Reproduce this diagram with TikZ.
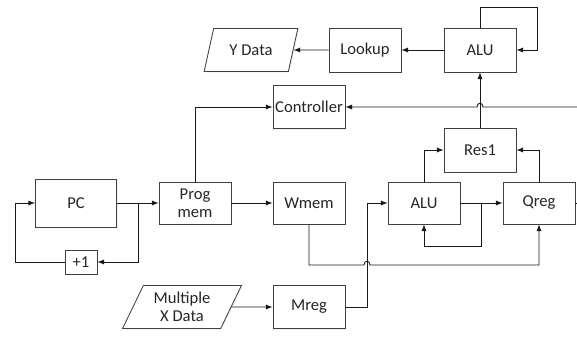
\documentclass[tikz,border=0pt]{standalone}
\usepackage{fontspec}
\setmainfont{Carlito}
\usetikzlibrary{shapes.geometric,shadows,calc}

\begin{document}
\begin{tikzpicture}[x=0.025cm,y=-0.025cm,>=latex,
        every node/.style={font=\fontsize{11.8}{13}\selectfont,text=black!85},
        blk/.style={draw=black!75,fill=white,line width=0.6pt,minimum width=1.8cm,minimum height=1.1cm,
          inner sep=0pt,align=center,drop shadow={shadow xshift=0.8pt,shadow yshift=-0.8pt,fill=black!12}},
        io/.style={blk,trapezium,trapezium left angle=63,trapezium right angle=117,trapezium stretches=true},
        wire/.style={draw=black!90,line width=0.65pt}]
        \useasboundingbox (0,0) rectangle (577,336);
        % top row
        \node[io,minimum width=2.35cm,minimum height=1.075cm] (ydata) at (251,50) {Y Data};
        \node[blk] (lookup) at (365,50) {Lookup};
        \node[blk] (alutop) at (480,50) {ALU};
        \node[blk,minimum height=1.075cm] (ctrl) at (309,107) {Controller};
        \node[blk] (res) at (480,150) {Res1};
        % middle row
        \node[blk,minimum width=2.025cm,minimum height=1.2cm] (pc) at (76,203) {PC};
        \node[blk,minimum height=1.05cm] (prog) at (195,203) {Prog\\mem};
        \node[blk,minimum height=1.05cm] (wmem) at (309,203) {Wmem};
        \node[blk,minimum height=1.05cm] (alu) at (424,203) {ALU};
        \node[blk,minimum height=1.05cm] (qreg) at (539,203) {Qreg};
        \node[blk,minimum width=0.8cm,minimum height=0.6cm] (plus) at (81,262) {+1};
        % bottom row
        \node[io,minimum width=2.975cm,minimum height=1.075cm] (xdata) at (182,307) {Multiple\\X Data};
        \node[blk,minimum height=1.075cm] (mreg) at (309,307) {Mreg};

        \coordinate (loopA) at (537,7);
        \coordinate (ctlin) at (577,107);
        \coordinate (hopc) at (res.north |- ctrl.east);
        \coordinate (pcsplit) at (138,203);
        \coordinate (pcback) at (15,262);
        \coordinate (alusplit) at (481,203);
        \coordinate (alufb) at (481,246);
        \coordinate (qout) at (577,203);
        \coordinate (wbend) at (309,265);
        \coordinate (mhop) at (367,265);
        \coordinate (mbend) at (367,307);

        \draw[wire,->] (lookup.west) -- (ydata.east);
        \draw[wire,->] (alutop.west) -- (lookup.east);
        \draw[wire,->] (alutop.north) |- (loopA) |- (alutop.east);
        \draw[wire,->] (ctlin) -- ($(hopc)+(3,0)$) .. controls +(0,-5) and +(0,-5) .. ($(hopc)+(-3,0)$) -- (ctrl.east);
        \draw[wire,->] (prog.north) |- (ctrl.west);
        \draw[wire,->] (res.north) -- (alutop.south);
        \draw[wire,->] (alu.north) |- (res.west);
        \draw[wire,->] (qreg.north) |- (res.east);
        \draw[wire,->] (pc.east) -- (prog.west);
        \draw[wire,->] (pcsplit) |- (plus.east);
        \draw[wire,->] (plus.west) -- (pcback) |- (pc.west);
        \draw[wire,->] (prog.east) -- (wmem.west);
        \draw[wire,->] (alu.east) -- (qreg.west);
        \draw[wire,->] (alusplit) -- (alufb) -| (alu.south);
        \draw[wire] (qreg.east) -- (qout);
        \draw[wire,->] (wmem.south) -- (wbend) -- ($(mhop)+(-3,0)$) .. controls +(0,-5) and +(0,-5) .. ($(mhop)+(3,0)$) -| (qreg.south);
        \draw[wire,->] (mreg.east) -- (mbend) |- (alu.west);
        \draw[wire,->] (xdata.east) -- (mreg.west);
\end{tikzpicture}
\end{document}
